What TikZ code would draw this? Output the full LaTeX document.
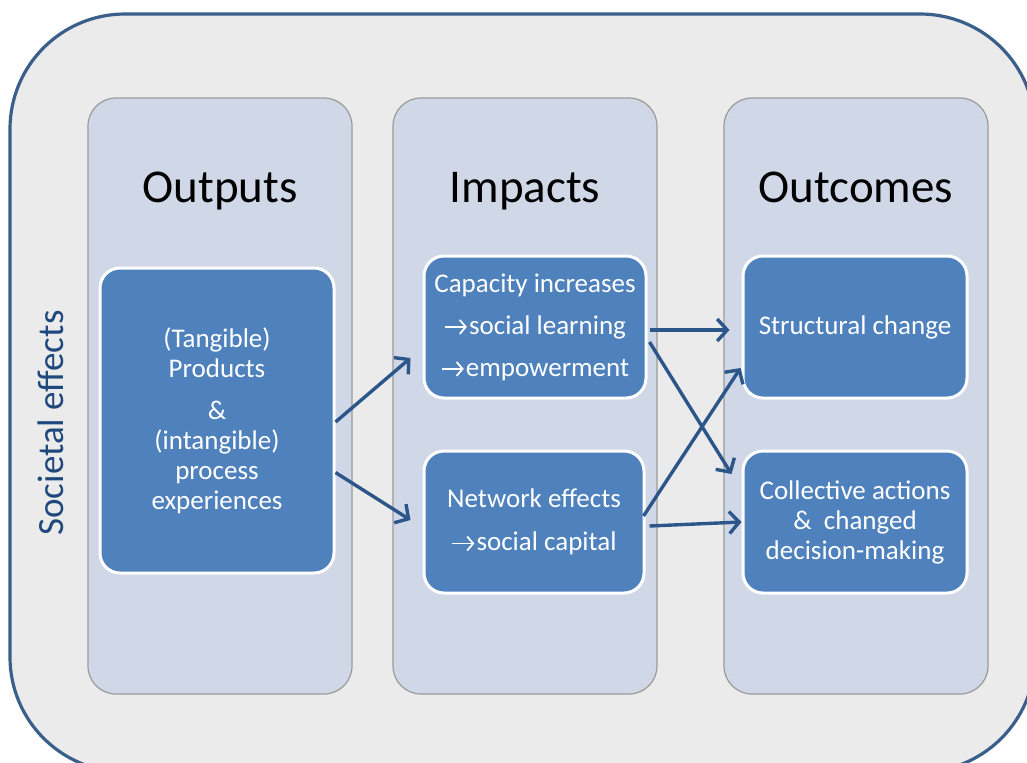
\documentclass[tikz,border=0pt]{standalone}
\usepackage{fontspec}
\setmainfont{Carlito}
\usetikzlibrary{arrows.meta,calc}
\definecolor{outerfill}{HTML}{EBEBEB}
\definecolor{outerline}{HTML}{3A5F8B}
\definecolor{colfill}{HTML}{D0D8E8}
\definecolor{colline}{HTML}{9A9A9A}
\definecolor{boxfill}{HTML}{4F81BD}
\definecolor{arrcol}{HTML}{2C5689}
\definecolor{sidetext}{HTML}{1F497D}
\newcommand{\ra}{\tikz[baseline=0pt,x=1pt,y=1pt]{\draw[white,line width=0.9pt,-{Straight Barb[length=3pt,width=7pt,line width=0.9pt]}] (0.5,3.6) -- (11.5,3.6);}\hspace{0.6pt}}
\tikzset{
  column/.style={draw=colline, fill=colfill, line width=0.6pt, rounded corners=14pt,
    minimum width=132pt, minimum height=298pt, inner sep=0pt},
  title/.style={font=\fontsize{23.5pt}{28pt}\selectfont, text=black, anchor=base},
  bluebox/.style={draw=white, fill=boxfill, line width=1.5pt, rounded corners=10pt,
    text=white, align=center, inner sep=0pt, minimum height=71pt,
    font=\fontsize{13.5pt}{15pt}\selectfont},
  arr/.style={draw=arrcol, line width=1.7pt, -{Straight Barb[length=5pt,width=11pt,line width=1.7pt]}}
}
\begin{document}
\begin{tikzpicture}[x=0.5pt,y=-0.5pt]
\useasboundingbox (0,0) rectangle (1027,762);
\fill[white] (0,0) rectangle (1027,762);
\begin{scope}
\clip (0,0) rectangle (1027,762);
\draw[draw=outerline, fill=outerfill, line width=1.6pt, rounded corners=57.5pt]
  (10,14) rectangle (1035,772);
\end{scope}
% side label
\node[rotate=90, text=sidetext, font=\fontsize{18.5pt}{20pt}\selectfont] (side) at (51,423) {Societal effects};
% columns
\node[column] (col1) at (220,396) {};
\node[column] (col2) at (525,396) {};
\node[column] (col3) at (856,396) {};
% titles
\node[title] (t1) at (220,202) {Outputs};
\node[title] (t2) at (525,202) {Impacts};
\node[title] (t3) at (856,202) {Outcomes};
% boxes
\node[bluebox, minimum width=117pt, minimum height=152.5pt] (A) at (217,420.5)
  {(Tangible)\\ Products\\[6pt] \&\\ (intangible)\\ process\\ experiences};
\node[bluebox, minimum width=111pt, font=\fontsize{13.5pt}{21pt}\selectfont] (B) at (535,327)
  {Capacity increases\\ \ra social learning\\ \ra empowerment};
\node[bluebox, minimum width=110pt, font=\fontsize{13.5pt}{21.5pt}\selectfont] (C) at (534,522)
  {Network effects\\ \ra social capital};
\node[bluebox, minimum width=112pt] (D) at (855,327) {Structural change};
\node[bluebox, minimum width=112pt] (E) at (855,522)
  {Collective actions\\ \&\ \ changed\\ decision-making};
% arrows
\draw[arr] ($(A.east)+(0,1.5)$) -- ($(B.west)+(-12,31)$);
\draw[arr] ($(A.east)+(0,52)$) -- ($(C.west)+(-12,-2)$);
\draw[arr] ($(B.east)+(2,3)$) -- ($(D.west)+(-12,3)$);
\draw[arr] ($(B.east)+(2,15)$) -- ($(E.west)+(-10,-48)$);
\draw[arr] ($(C.east)+(-2,-6)$) -- ($(D.west)+(-1,41)$);
\draw[arr] ($(C.east)+(4,4)$) -- ($(E.west)+(0,0)$);
\end{tikzpicture}
\end{document}
